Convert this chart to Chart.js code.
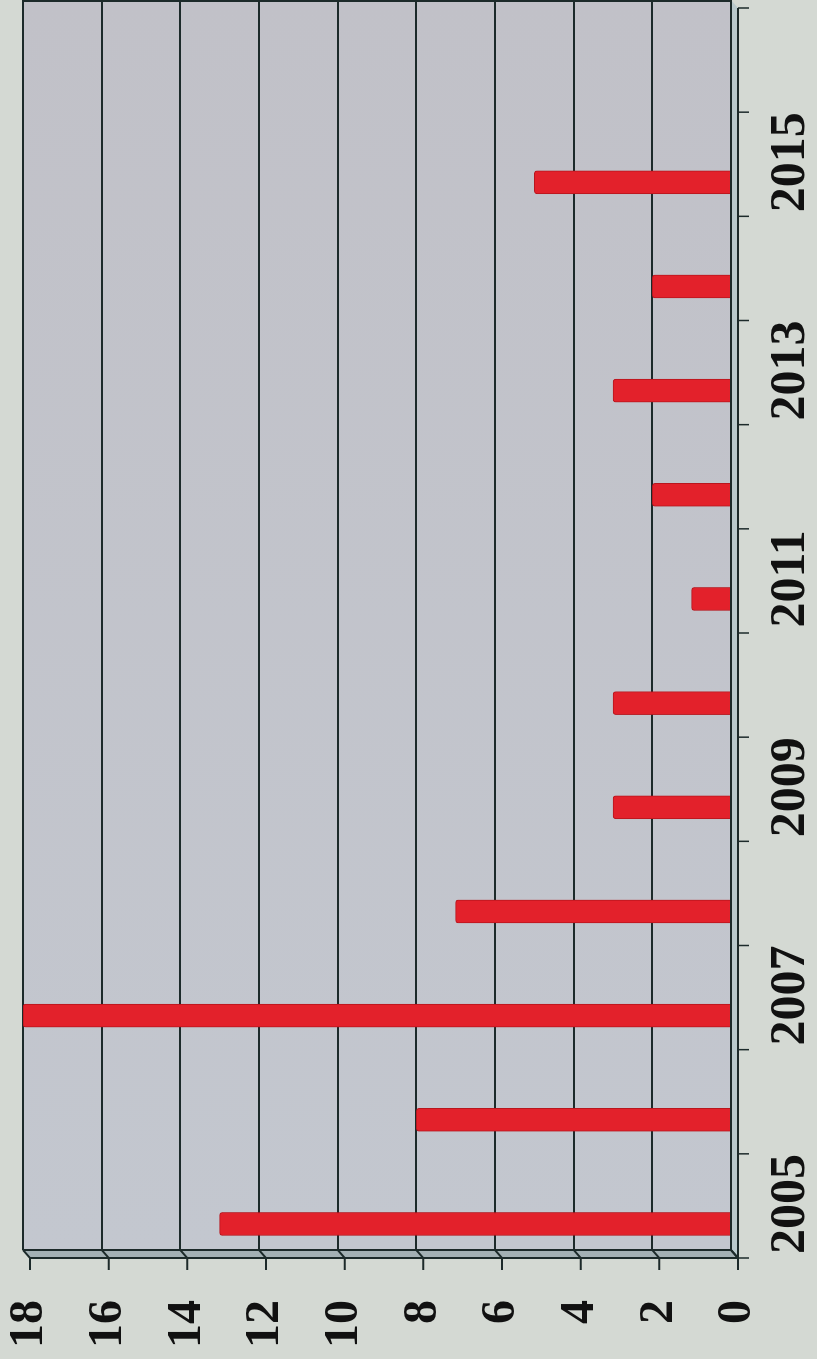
<!DOCTYPE html>
<html>
<head>
<meta charset="utf-8">
<script src="https://cdn.jsdelivr.net/npm/chart.js@4"></script>
<style>
  html, body { margin: 0; padding: 0; background: #d4d9d3; overflow: hidden; }
  #wrap { position: relative; width: 817px; height: 1359px; }
  #myChart {
    position: absolute; left: 0; top: 0;
    transform-origin: 0 0;
    transform: translate(0, 1359px) rotate(-90deg);
  }
</style>
</head>
<body>
<div id="wrap"><canvas id="myChart" width="1359" height="817"></canvas></div>
<script>
const years = [2005, 2006, 2007, 2008, 2009, 2010, 2011, 2012, 2013, 2014, 2015, 2016];
const values = [13, 8, 18, 7, 3, 3, 1, 2, 3, 2, 5, null];
const valueTicks = [0, 2, 4, 6, 8, 10, 12, 14, 16, 18];

// depth of the 3d box, back wall -> front edge (canvas coords, before rotation)
const DX = -8, DY = 7;
const lineCol = '#1c2a2a';

const wall3d = {
  id: 'wall3d',
  beforeDraw(chart) {
    const { ctx, chartArea: a } = chart;
    ctx.save();
    // back wall
    const g = ctx.createLinearGradient(a.left, 0, a.right, 0);
    g.addColorStop(0, '#c3c7cf');
    g.addColorStop(1, '#c1c1c8');
    ctx.fillStyle = g;
    ctx.fillRect(a.left, a.top, a.right - a.left, a.bottom - a.top);
    // side wall
    ctx.fillStyle = '#a3b0b4';
    ctx.beginPath();
    ctx.moveTo(a.left, a.top);
    ctx.lineTo(a.left, a.bottom);
    ctx.lineTo(a.left + DX, a.bottom + DY);
    ctx.lineTo(a.left + DX, a.top + DY);
    ctx.closePath();
    ctx.fill();
    // floor
    ctx.fillStyle = '#b9c9cc';
    ctx.beginPath();
    ctx.moveTo(a.left, a.bottom);
    ctx.lineTo(a.right, a.bottom);
    ctx.lineTo(a.right + DX, a.bottom + DY);
    ctx.lineTo(a.left + DX, a.bottom + DY);
    ctx.closePath();
    ctx.fill();
    ctx.restore();
  },
  beforeDatasetsDraw(chart) {
    const { ctx, chartArea: a, scales } = chart;
    const y = scales.y, x = scales.x;
    ctx.save();
    ctx.strokeStyle = lineCol;
    ctx.lineWidth = 2;
    // gridlines continued over the side wall, plus front ticks
    valueTicks.forEach(v => {
      const py = y.getPixelForValue(v);
      ctx.beginPath();
      ctx.moveTo(a.left, py);
      ctx.lineTo(a.left + DX, py + DY);
      ctx.lineTo(a.left + DX - 12, py + DY);
      ctx.stroke();
    });
    // edges of the box
    ctx.beginPath();
    ctx.moveTo(a.left, a.top);
    ctx.lineTo(a.left, a.bottom);
    ctx.lineTo(a.right, a.bottom);
    ctx.moveTo(a.left + DX, a.top + DY);
    ctx.lineTo(a.left + DX, a.bottom + DY);
    ctx.lineTo(a.right + DX, a.bottom + DY);
    ctx.moveTo(a.left, a.bottom);
    ctx.lineTo(a.left + DX, a.bottom + DY);
    ctx.moveTo(a.right - 1, a.top);
    ctx.lineTo(a.right - 1, a.bottom);
    ctx.stroke();
    // category ticks on the front edge
    const w = x.getPixelForValue(1) - x.getPixelForValue(0);
    const x0 = x.getPixelForValue(0) - w / 2;
    ctx.lineWidth = 1.5;
    for (let k = 0; k <= years.length; k++) {
      const px = x0 + k * w + DX;
      ctx.beginPath();
      ctx.moveTo(px, a.bottom + DY);
      ctx.lineTo(px, a.bottom + DY + 11);
      ctx.stroke();
    }
    ctx.restore();
  }
};

const ctx = document.getElementById('myChart');

const chart = new Chart(ctx, {
  type: 'bar',
  data: {
    labels: years.map(String),
    datasets: [{
      data: years.map((yr, i) => ({ x: yr, y: values[i] })),
      xAxisID: 'xb',
      backgroundColor: '#e3212b',
      borderColor: '#b8161e',
      borderWidth: 1,
      borderRadius: 3,
      barThickness: 23
    }]
  },
  options: {
    responsive: false,
    animation: false,
    devicePixelRatio: 1,
    layout: { padding: { top: 23, right: 0, left: 0, bottom: 0 } },
    plugins: {
      legend: { display: false },
      tooltip: { enabled: false }
    },
    scales: {
      x: {
        type: 'category',
        offset: true,
        grid: { display: false, drawTicks: false },
        border: { display: false },
        ticks: {
          autoSkip: false,
          maxRotation: 0,
          minRotation: 0,
          padding: 30,
          labelOffset: -6,
          color: '#111',
          font: { family: '"Liberation Serif", "Times New Roman", serif', size: 50, weight: 'bold' },
          callback: function (val, index) {
            return index % 2 === 0 && index < 11 ? this.getLabelForValue(val) : '';
          }
        },
        afterFit(scale) {
          scale.height = 86;
          scale.paddingLeft = 0;
          scale.paddingRight = 0;
        }
      },
      xb: {
        type: 'linear',
        display: false,
        offset: false,
        grid: { offset: false },
        min: 2004.75,
        max: 2016.75
      },
      y: {
        min: 0,
        max: 18,
        ticks: {
          stepSize: 2,
          padding: 50,
          labelOffset: 7,
          color: '#111',
          font: { family: '"Liberation Serif", "Times New Roman", serif', size: 48, weight: 'bold' }
        },
        grid: { color: lineCol, lineWidth: 2, drawTicks: false },
        border: { display: false },
        afterFit(scale) {
          scale.width = 109;
          scale.paddingTop = 0;
          scale.paddingBottom = 0;
        }
      }
    }
  },
  plugins: [wall3d]
});
</script>
</body>
</html>
